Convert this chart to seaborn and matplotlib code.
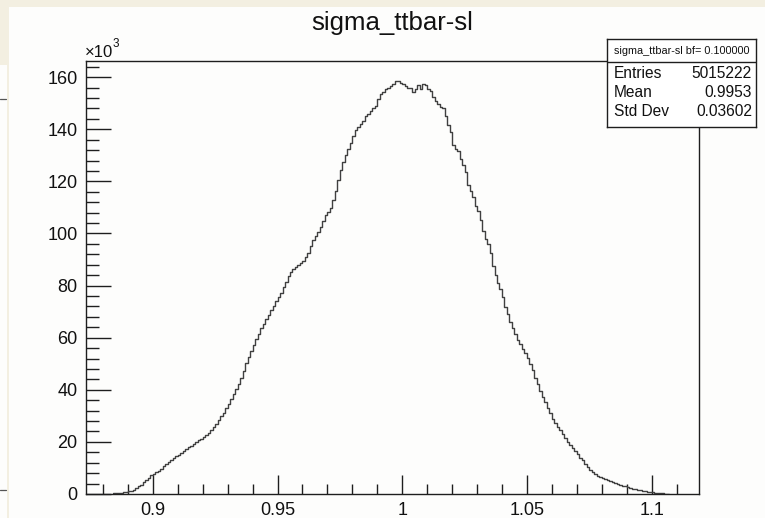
import numpy as np
import pandas as pd
import matplotlib
matplotlib.use("Agg")
import matplotlib.pyplot as plt
from matplotlib.patches import Rectangle
from matplotlib.lines import Line2D
from matplotlib.ticker import MultipleLocator, FuncFormatter
import seaborn as sns

# ---- histogram content (entries per bin, in thousands) ----
bin_lo = 0.884
bin_width = 0.001
counts_k = [
    0.2, 0.3, 0.4, 0.5, 0.6, 0.8, 1.0, 1.2, 1.5, 2.2,
    2.9, 3.6, 4.5, 5.5, 6.3, 7.2, 7.8, 8.4, 9.0, 9.6,
    10.6, 11.6, 12.3, 13.0, 13.8, 14.4, 15.0, 15.7, 16.4, 17.2,
    17.9, 18.6, 19.3, 20.0, 20.6, 21.3, 22.0, 22.8, 23.6, 24.5,
    25.6, 27.0, 28.5, 29.8, 31.0, 32.9, 34.6, 36.4, 38.3, 40.2,
    42.4, 44.5, 47.2, 50.1, 52.6, 55.0, 57.3, 59.6, 61.5, 63.6,
    65.4, 67.2, 68.7, 70.6, 72.2, 74.0, 75.6, 77.3, 79.6, 81.4,
    83.5, 85.2, 86.3, 87.2, 87.8, 88.6, 89.4, 90.8, 92.5, 95.3,
    97.6, 99.2, 100.4, 102.3, 104.8, 107.2, 108.4, 109.6, 112.8, 116.4,
    120.5, 124.3, 127.4, 130.1, 132.6, 134.8, 137.6, 139.6, 140.8, 141.9,
    143.1, 145.2, 146.0, 146.9, 148.1, 148.9, 151.8, 153.6, 154.3, 155.4,
    155.9, 156.6, 157.4, 158.4, 158.5, 157.8, 157.2, 156.6, 155.7, 155.9,
    154.3, 155.3, 157.1, 155.6, 157.2, 156.9, 155.4, 154.6, 152.3, 151.0,
    149.6, 148.6, 148.0, 145.0, 141.6, 139.0, 134.0, 132.6, 131.5, 128.5,
    126.1, 123.5, 118.5, 116.2, 114.0, 110.5, 108.5, 105.0, 101.0, 98.0,
    96.0, 92.5, 87.5, 84.0, 81.0, 78.5, 75.5, 71.8, 68.9, 66.0,
    63.6, 61.4, 59.3, 57.4, 55.8, 54.2, 52.1, 49.8, 47.5, 44.6,
    42.2, 39.6, 37.3, 35.4, 33.2, 31.0, 28.9, 27.3, 25.7, 24.6,
    23.0, 21.4, 20.1, 18.7, 17.5, 16.5, 15.2, 14.0, 12.9, 11.6,
    10.4, 9.4, 8.5, 7.6, 7.0, 6.5, 6.0, 5.6, 5.3, 5.0,
    4.7, 4.3, 3.9, 3.6, 3.2, 2.9, 2.6, 2.4, 2.1, 1.9,
    1.7, 1.5, 1.3, 1.1, 0.9, 0.8, 0.7, 0.5, 0.4, 0.3,
    0.2, 0.1, 0.1,
]

title = "sigma_ttbar-sl"
stats_header = "sigma_ttbar-sl bf= 0.100000"
stats_names = ["Entries", "Mean", "Std Dev"]
stats_values = ["5015222", "0.9953", "0.03602"]

x_range = (0.8732, 1.119)
y_max_k = 166.2

# ---- figure setup ----
sns.set_style("ticks")
plt.rcParams["font.family"] = ["Liberation Sans", "DejaVu Sans"]

W, H = 765, 518
fig = plt.figure(figsize=(W / 100, H / 100), dpi=100)
fig.patch.set_facecolor("#f3efe1")

def fx(px):
    return px / W

def fy(py):
    return 1 - py / H

canvas_col = "#fdfdfc"
# main canvas panel
fig.patches.append(Rectangle((fx(9), 0), 1 - fx(9), fy(7), transform=fig.transFigure,
                             facecolor=canvas_col, edgecolor="none", zorder=-10))
# strip of a window behind, on the left edge
fig.patches.append(Rectangle((0, 0), fx(7), fy(65), transform=fig.transFigure,
                             facecolor=canvas_col, edgecolor="none", zorder=-10))
for py in (99, 490):
    fig.lines.append(Line2D([0, fx(6)], [fy(py), fy(py)], transform=fig.transFigure,
                            color="#555555", lw=0.9, zorder=-5))

ax = fig.add_axes([fx(86), fy(494), fx(699) - fx(86), fy(61) - fy(494)])
ax.set_facecolor(canvas_col)

counts = np.asarray(counts_k, dtype=float)
n_bins = len(counts)
bin_hi = bin_lo + bin_width * n_bins
hist_df = pd.DataFrame({
    "x": bin_lo + bin_width * (np.arange(n_bins) + 0.5),
    "n": counts,
})

sns.histplot(data=hist_df, x="x", weights="n", binwidth=bin_width,
             binrange=(bin_lo, bin_hi), element="step", fill=False,
             color="#404040", linewidth=1.0, ax=ax)

ax.set_xlim(*x_range)
ax.set_ylim(0, y_max_k)
ax.set_xlabel("")
ax.set_ylabel("")

for s in ax.spines.values():
    s.set_visible(True)
    s.set_color("#1e1e1e")
    s.set_linewidth(1.0)

ax.xaxis.set_major_locator(MultipleLocator(0.05))
ax.xaxis.set_minor_locator(MultipleLocator(0.01))
ax.yaxis.set_major_locator(MultipleLocator(20))
ax.yaxis.set_minor_locator(MultipleLocator(4))
ax.xaxis.set_major_formatter(FuncFormatter(lambda v, p: f"{v:g}"))
ax.yaxis.set_major_formatter(FuncFormatter(lambda v, p: f"{v:g}"))

ax.tick_params(axis="both", which="both", direction="in", top=False, right=False,
               colors="#1e1e1e", labelcolor="#111111", labelsize=13)
ax.tick_params(axis="y", which="major", length=18, width=1.0, pad=6)
ax.tick_params(axis="y", which="minor", length=9, width=1.0)
ax.tick_params(axis="x", which="major", length=14, width=1.0, pad=6)
ax.tick_params(axis="x", which="minor", length=7, width=1.0)

# exponent note above the y axis
fig.text(fx(85), fy(57), "×10", fontsize=12, color="#111111", ha="left", va="baseline")
fig.text(fx(113), fy(47), "3", fontsize=8.5, color="#111111", ha="left", va="baseline")

# title
fig.text(fx(392), fy(23), title, fontsize=18.5, color="#111111", ha="center", va="center")

# statistics box
bx0, bx1, by0, by1 = 607, 756, 39, 127
bax = fig.add_axes([fx(bx0), fy(by1), fx(bx1) - fx(bx0), fy(by0) - fy(by1)])
bax.set_facecolor("white")
bax.set_xticks([])
bax.set_yticks([])
for s in bax.spines.values():
    s.set_color("#1e1e1e")
    s.set_linewidth(1.0)
bh = by1 - by0
bax.axhline((by1 - 62) / bh, color="#1e1e1e", lw=1.0)
bax.text(0.5, (by1 - 50.5) / bh, stats_header, fontsize=7.8, ha="center", va="center",
         color="#111111", transform=bax.transAxes)
for i, (nm, vl) in enumerate(zip(stats_names, stats_values)):
    yy = (by1 - (73.3 + 19.2 * i)) / bh
    bax.text((614 - bx0) / (bx1 - bx0), yy, nm, fontsize=11.2, ha="left", va="center",
             color="#111111", transform=bax.transAxes)
    bax.text((752 - bx0) / (bx1 - bx0), yy, vl, fontsize=11.2, ha="right", va="center",
             color="#111111", transform=bax.transAxes)

fig.savefig("out.png", dpi=100, facecolor=fig.get_facecolor())
